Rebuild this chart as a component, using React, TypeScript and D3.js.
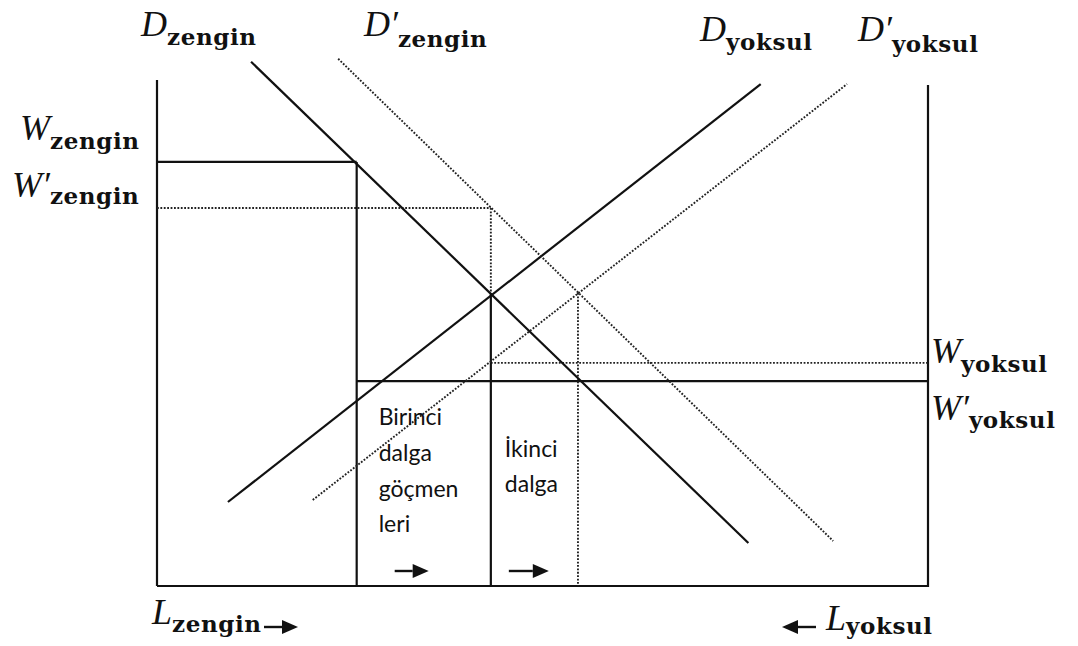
import React from 'react';
import * as d3 from 'd3';

// labour axis: 0 = left wall (zengin), 100 = right wall (yoksul); wage axis: 0 = floor
const wageLevels = [83.8, 74.7, 44.1, 40.5]; // W zengin, W' zengin, W yoksul, W' yoksul
const labourSplits = [25.9, 43.3, 54.6]; // before migration, first wave, second wave
const equilibria = [[43.3, 57.7], [54.6, 57.9]];

const demandZengin = [[12.2, 103.6], [76.7, 8.5]];
const demandZenginNew = [[23.5, 104.2], [87.7, 8.9]];
const demandYoksul = [[9.2, 16.6], [78.3, 99.2]];
const demandYoksulNew = [[20.2, 17.0], [89.5, 99.2]];

const axisTops = [100, 99];

const W = 1078;
const H = 646;

const x = d3.scaleLinear().domain([0, 100]).range([157, 928]);
const y = d3.scaleLinear().domain([0, 100]).range([586, 80]);
const line = d3.line<number[]>().x(d => x(d[0])).y(d => y(d[1]));

const solid = { stroke: '#111', strokeWidth: 2.2, fill: 'none' };
const dotted = { stroke: '#222', strokeWidth: 1.9, fill: 'none', strokeDasharray: '1.8 1.6' };

const mainFont: React.CSSProperties = {
  fontFamily: "'Liberation Serif', serif",
  fontStyle: 'italic',
  fontSize: 36,
};
const subFont: React.CSSProperties = {
  fontFamily: "'DejaVu Serif', serif",
  fontWeight: 'bold',
  fontStyle: 'normal',
  fontSize: 23,
  letterSpacing: 0.6,
};
const noteFont: React.CSSProperties = {
  fontFamily: "Lato, 'Open Sans', sans-serif",
  fontSize: 23,
  fill: '#111',
};

const Label = ({ px, py, main, prime, sub, dy }) => (
  <text x={px} y={py} fill="#111">
    <tspan style={mainFont}>{main}{prime ? '′' : ''}</tspan>
    <tspan style={subFont} dy={dy}>{sub}</tspan>
  </text>
);

// horizontal arrow, head at x2
const Arrow = ({ x1, x2, yy }) => {
  const dir = x2 > x1 ? 1 : -1;
  const back = x2 - dir * 16;
  return (
    <g>
      <line x1={x1} x2={back} y1={yy} y2={yy} stroke="#111" strokeWidth={2.4} />
      <path d={`M${x2},${yy} L${back},${yy - 7} L${back},${yy + 7} Z`} fill="#111" />
    </g>
  );
};

export default function App() {
  const [wZ, wZn, wY, wYn] = wageLevels;
  const [l1, l2, l3] = labourSplits;
  return (
    <svg width={W} height={H} style={{ position: 'absolute', left: 0, top: 0, background: '#fff' }}>
      {/* box */}
      <line x1={x(0)} x2={x(0)} y1={y(axisTops[0])} y2={y(0)} {...solid} />
      <line x1={x(100)} x2={x(100)} y1={y(axisTops[1])} y2={y(0) + 1} {...solid} />
      <line x1={x(0)} x2={x(100)} y1={y(0)} y2={y(0)} {...solid} />

      {/* wage levels */}
      <line x1={x(0)} x2={x(l1)} y1={y(wZ)} y2={y(wZ)} {...solid} />
      <line x1={x(0)} x2={x(l2)} y1={y(wZn)} y2={y(wZn)} {...dotted} />
      <line x1={x(l2)} x2={x(100)} y1={y(wY)} y2={y(wY)} {...dotted} />
      <line x1={x(l1)} x2={x(100)} y1={y(wYn)} y2={y(wYn)} {...solid} />

      {/* labour splits */}
      <line x1={x(l1)} x2={x(l1)} y1={y(wZ)} y2={y(0)} {...solid} />
      <line x1={x(l2)} x2={x(l2)} y1={y(wZn)} y2={y(equilibria[0][1])} {...dotted} />
      <line x1={x(l2)} x2={x(l2)} y1={y(equilibria[0][1])} y2={y(0)} {...solid} />
      <line x1={x(l3)} x2={x(l3)} y1={y(equilibria[1][1])} y2={y(0)} {...dotted} />

      {/* demand curves */}
      <path d={line(demandZengin)} {...solid} />
      <path d={line(demandYoksul)} {...solid} />
      <path d={line(demandZenginNew)} {...dotted} />
      <path d={line(demandYoksulNew)} {...dotted} />

      {/* curve labels */}
      <Label px={141} py={36} main="D" prime={false} sub="zengin" dy={9} />
      <Label px={364} py={36} main="D" prime sub="zengin" dy={11} />
      <Label px={700} py={41} main="D" prime={false} sub="yoksul" dy={9} />
      <Label px={858} py={41} main="D" prime sub="yoksul" dy={11} />

      <Label px={20} py={140} main="W" prime={false} sub="zengin" dy={9} />
      <Label px={12} py={197} main="W" prime sub="zengin" dy={7} />
      <Label px={931} py={363} main="W" prime={false} sub="yoksul" dy={9} />
      <Label px={931} py={420} main="W" prime sub="yoksul" dy={8} />

      <Label px={152} py={624} main="L" prime={false} sub="zengin" dy={8} />
      <Arrow x1={264} x2={298} yy={627} />
      <Arrow x1={816} x2={782} yy={627} />
      <Label px={826} py={630} main="L" prime={false} sub="yoksul" dy={4} />

      {/* migration waves */}
      <text style={noteFont}>
        <tspan x={x(l1) + 22} y={425}>Birinci</tspan>
        <tspan x={x(l1) + 22} y={461}>dalga</tspan>
        <tspan x={x(l1) + 22} y={497}>göçmen</tspan>
        <tspan x={x(l1) + 22} y={532}>leri</tspan>
      </text>
      <text style={noteFont}>
        <tspan x={x(l2) + 14} y={457}>İkinci</tspan>
        <tspan x={x(l2) + 14} y={492}>dalga</tspan>
      </text>
      <Arrow x1={x(l1) + 38} x2={x(l1) + 72} yy={571} />
      <Arrow x1={x(l2) + 18} x2={x(l2) + 58} yy={571} />
    </svg>
  );
}
